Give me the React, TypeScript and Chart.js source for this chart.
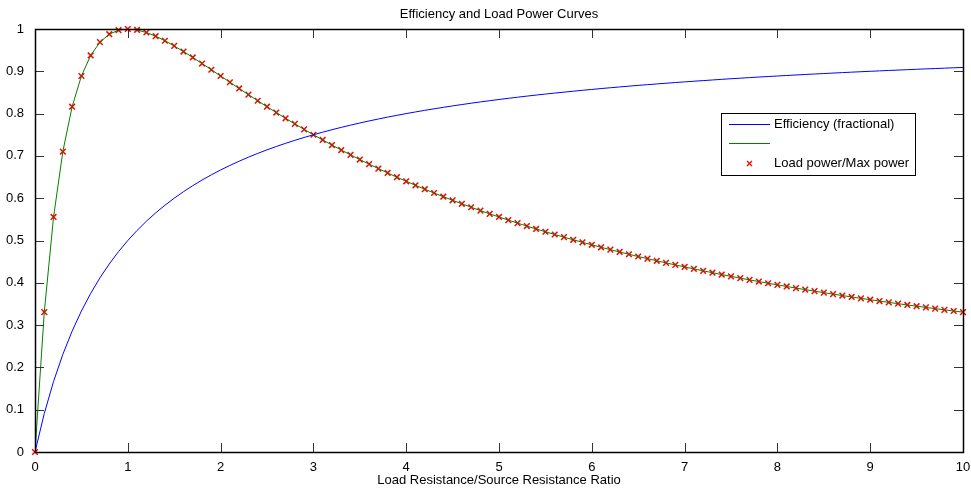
import React, { useEffect, useRef } from "react";
import { Chart, registerables } from "chart.js";

Chart.register(...registerables);

// Load resistance / source resistance ratio, sampled every 0.1
const ratio: number[] = [
  0, 0.1, 0.2, 0.3, 0.4, 0.5, 0.6, 0.7, 0.8, 0.9,
  1, 1.1, 1.2, 1.3, 1.4, 1.5, 1.6, 1.7, 1.8, 1.9,
  2, 2.1, 2.2, 2.3, 2.4, 2.5, 2.6, 2.7, 2.8, 2.9,
  3, 3.1, 3.2, 3.3, 3.4, 3.5, 3.6, 3.7, 3.8, 3.9,
  4, 4.1, 4.2, 4.3, 4.4, 4.5, 4.6, 4.7, 4.8, 4.9,
  5, 5.1, 5.2, 5.3, 5.4, 5.5, 5.6, 5.7, 5.8, 5.9,
  6, 6.1, 6.2, 6.3, 6.4, 6.5, 6.6, 6.7, 6.8, 6.9,
  7, 7.1, 7.2, 7.3, 7.4, 7.5, 7.6, 7.7, 7.8, 7.9,
  8, 8.1, 8.2, 8.3, 8.4, 8.5, 8.6, 8.7, 8.8, 8.9,
  9, 9.1, 9.2, 9.3, 9.4, 9.5, 9.6, 9.7, 9.8, 9.9,
  10,
];

// Efficiency (fractional)
const efficiency: number[] = [
  0, 0.0909, 0.1667, 0.2308, 0.2857, 0.3333, 0.375, 0.4118, 0.4444, 0.4737,
  0.5, 0.5238, 0.5455, 0.5652, 0.5833, 0.6, 0.6154, 0.6296, 0.6429, 0.6552,
  0.6667, 0.6774, 0.6875, 0.697, 0.7059, 0.7143, 0.7222, 0.7297, 0.7368, 0.7436,
  0.75, 0.7561, 0.7619, 0.7674, 0.7727, 0.7778, 0.7826, 0.7872, 0.7917, 0.7959,
  0.8, 0.8039, 0.8077, 0.8113, 0.8148, 0.8182, 0.8214, 0.8246, 0.8276, 0.8305,
  0.8333, 0.8361, 0.8387, 0.8413, 0.8438, 0.8462, 0.8485, 0.8507, 0.8529, 0.8551,
  0.8571, 0.8592, 0.8611, 0.863, 0.8649, 0.8667, 0.8684, 0.8701, 0.8718, 0.8734,
  0.875, 0.8765, 0.878, 0.8795, 0.881, 0.8824, 0.8837, 0.8851, 0.8864, 0.8876,
  0.8889, 0.8901, 0.8913, 0.8925, 0.8936, 0.8947, 0.8958, 0.8969, 0.898, 0.899,
  0.9, 0.901, 0.902, 0.9029, 0.9038, 0.9048, 0.9057, 0.9065, 0.9074, 0.9083,
  0.9091,
];

// Load power relative to maximum power
const loadPower: number[] = [
  0, 0.3306, 0.5556, 0.7101, 0.8163, 0.8889, 0.9375, 0.9689, 0.9877, 0.9972,
  1, 0.9977, 0.9917, 0.983, 0.9722, 0.96, 0.9467, 0.9328, 0.9184, 0.9037,
  0.8889, 0.8741, 0.8594, 0.8448, 0.8304, 0.8163, 0.8025, 0.7889, 0.7756, 0.7627,
  0.75, 0.7377, 0.7256, 0.7139, 0.7025, 0.6914, 0.6805, 0.67, 0.6597, 0.6497,
  0.64, 0.6305, 0.6213, 0.6123, 0.6036, 0.595, 0.5867, 0.5786, 0.5707, 0.563,
  0.5556, 0.5482, 0.5411, 0.5341, 0.5273, 0.5207, 0.5142, 0.5079, 0.5017, 0.4957,
  0.4898, 0.484, 0.4784, 0.4729, 0.4675, 0.4622, 0.4571, 0.452, 0.4471, 0.4423,
  0.4375, 0.4329, 0.4283, 0.4239, 0.4195, 0.4152, 0.411, 0.4069, 0.4029, 0.3989,
  0.3951, 0.3913, 0.3875, 0.3839, 0.3803, 0.3767, 0.3733, 0.3699, 0.3665, 0.3632,
  0.36, 0.3568, 0.3537, 0.3507, 0.3476, 0.3447, 0.3418, 0.3389, 0.3361, 0.3333,
  0.3306,
];

const TITLE = "Efficiency and Load Power Curves";
const X_LABEL = "Load Resistance/Source Resistance Ratio";
const LEGEND_LABELS = ["Efficiency (fractional)", "", "Load power/Max power"];

const FONT = "'Liberation Sans', Arial, Helvetica, sans-serif";
const FONT_SIZE = 13;
const BLUE = "#0000ff";
const GREEN = "#008000";
const RED = "#ff0000";

// Box, inward ticks, title, axis label and legend drawn in MATLAB figure style
const framePlugin = {
  id: "matlabFrame",
  afterDatasetsDraw(chart: any) {
    const { ctx, chartArea } = chart;
    const { left, right, top, bottom } = chartArea;
    const xs = chart.scales.x;
    const ys = chart.scales.y;
    const tickLen = 9;
    ctx.save();

    ctx.strokeStyle = "#333";
    ctx.lineWidth = 1;
    ctx.beginPath();
    for (const t of xs.ticks) {
      const px = Math.round(xs.getPixelForValue(t.value)) + 0.5;
      ctx.moveTo(px, bottom);
      ctx.lineTo(px, bottom - tickLen);
      ctx.moveTo(px, top);
      ctx.lineTo(px, top + tickLen);
    }
    for (const t of ys.ticks) {
      const py = Math.round(ys.getPixelForValue(t.value)) + 0.5;
      ctx.moveTo(left, py);
      ctx.lineTo(left + tickLen, py);
      ctx.moveTo(right, py);
      ctx.lineTo(right - tickLen, py);
    }
    ctx.stroke();

    ctx.strokeStyle = "#000";
    ctx.lineWidth = 1.5;
    ctx.beginPath();
    ctx.rect(Math.round(left) + 0.5, Math.round(top) + 0.5, Math.round(right - left), Math.round(bottom - top));
    ctx.stroke();

    // title and x-axis label
    ctx.fillStyle = "#000";
    ctx.font = `${FONT_SIZE}px ${FONT}`;
    ctx.textAlign = "center";
    ctx.textBaseline = "middle";
    const cx = (left + right) / 2;
    ctx.fillText(TITLE, cx, 14);
    ctx.fillText(X_LABEL, cx, 480);

    // legend
    const lx = 721, ly = 113, lw = 194, lh = 62;
    ctx.fillStyle = "#fff";
    ctx.fillRect(lx, ly, lw, lh);
    ctx.strokeStyle = "#000";
    ctx.lineWidth = 1;
    ctx.strokeRect(lx + 0.5, ly + 0.5, lw, lh);

    const rows = [124, 143, 163];
    ctx.strokeStyle = BLUE;
    ctx.beginPath();
    ctx.moveTo(729, rows[0] + 0.5);
    ctx.lineTo(770, rows[0] + 0.5);
    ctx.stroke();
    ctx.strokeStyle = GREEN;
    ctx.beginPath();
    ctx.moveTo(729, rows[1] + 0.5);
    ctx.lineTo(770, rows[1] + 0.5);
    ctx.stroke();
    ctx.strokeStyle = RED;
    ctx.lineWidth = 1.3;
    ctx.beginPath();
    const mx = 749.5, my = rows[2] + 0.5, m = 2.5;
    ctx.moveTo(mx - m, my - m);
    ctx.lineTo(mx + m, my + m);
    ctx.moveTo(mx - m, my + m);
    ctx.lineTo(mx + m, my - m);
    ctx.stroke();

    ctx.fillStyle = "#000";
    ctx.textAlign = "left";
    LEGEND_LABELS.forEach((label, i) => {
      if (label) ctx.fillText(label, 774, rows[i] + 0.5);
    });
    ctx.restore();
  },
};

export default function App() {
  const canvasRef = useRef<HTMLCanvasElement | null>(null);

  useEffect(() => {
    const canvas = canvasRef.current;
    if (!canvas) return;
    const effPts = ratio.map((x, i) => ({ x, y: efficiency[i] }));
    const powPts = ratio.map((x, i) => ({ x, y: loadPower[i] }));

    const chart = new Chart(canvas, {
      type: "scatter",
      data: {
        datasets: [
          {
            data: effPts,
            showLine: true,
            borderColor: BLUE,
            borderWidth: 1,
            pointRadius: 0,
            tension: 0,
          },
          {
            data: powPts,
            showLine: true,
            borderColor: GREEN,
            borderWidth: 1,
            pointRadius: 0,
            tension: 0,
          },
          {
            data: powPts,
            showLine: false,
            pointStyle: "crossRot",
            pointRadius: 4,
            pointBorderWidth: 1.5,
            pointBorderColor: RED,
            pointBackgroundColor: RED,
            clip: 6,
          },
        ],
      },
      options: {
        responsive: false,
        animation: false,
        events: [],
        layout: { padding: { left: 0, top: 29, right: 8, bottom: 0 } },
        plugins: {
          legend: { display: false },
          title: { display: false },
          tooltip: { enabled: false },
        },
        scales: {
          x: {
            type: "linear",
            min: 0,
            max: 10,
            afterFit: (s: any) => {
              s.height = 37;
            },
            ticks: {
              stepSize: 1,
              color: "#000",
              font: { family: FONT, size: FONT_SIZE },
              padding: 0,
            },
            grid: { display: false },
            border: { display: false },
          },
          y: {
            type: "linear",
            min: 0,
            max: 1,
            afterFit: (s: any) => {
              s.width = 35;
            },
            ticks: {
              stepSize: 0.1,
              color: "#000",
              font: { family: FONT, size: FONT_SIZE },
              padding: 3,
              callback: (v: any) => String(Math.round(Number(v) * 10) / 10),
            },
            grid: { display: false },
            border: { display: false },
          },
        },
      },
      plugins: [framePlugin],
    });
    return () => chart.destroy();
  }, []);

  return (
    <div style={{ position: "fixed", left: 0, top: 0, width: 971, height: 489, background: "#fff" }}>
      <canvas ref={canvasRef} width={971} height={489} style={{ display: "block" }} />
    </div>
  );
}
